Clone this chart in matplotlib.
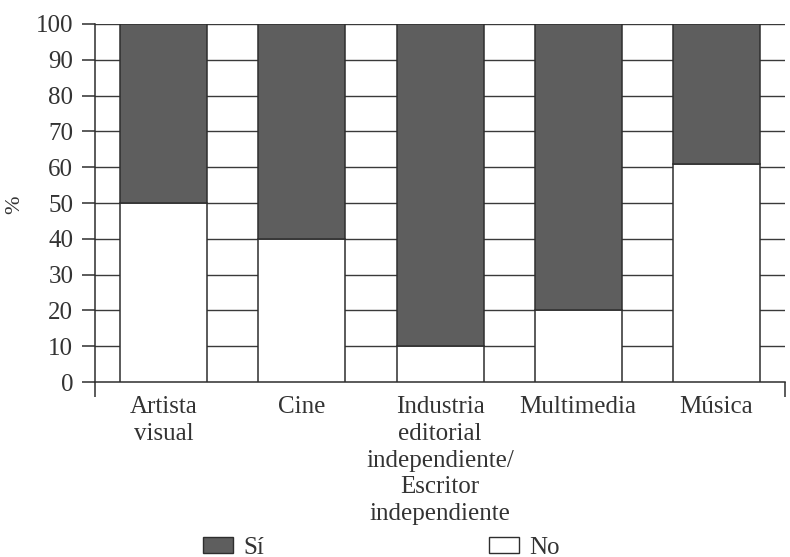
import matplotlib
matplotlib.use("Agg")
import matplotlib.pyplot as plt
from matplotlib.patches import Patch
import numpy as np

categories = ["Artista\nvisual", "Cine",
              "Industria\neditorial\nindependiente/\nEscritor\nindependiente",
              "Multimedia", "Música"]
no_vals = [50, 40, 10, 20, 61]
si_vals = [100 - v for v in no_vals]
yticks = list(range(0, 101, 10))

plt.rcParams["font.family"] = ["Liberation Serif", "DejaVu Serif"]
plt.rcParams["font.size"] = 18

fig = plt.figure(figsize=(7.9, 5.57), dpi=100)
ax = fig.add_axes([0.120, 0.314, 0.874, 0.643])

x = np.arange(len(categories))
width = 0.63
edge = "#2e2e2e"
dark = "#5e5e5e"
text_col = "#333333"

ax.bar(x, no_vals, width, color="white", edgecolor=edge, linewidth=1.1, zorder=3)
ax.bar(x, si_vals, width, bottom=no_vals, color=dark, edgecolor=edge,
       linewidth=1.1, zorder=3)

ax.set_xlim(-0.5, len(categories) - 0.5)
ax.set_ylim(0, 100)
ax.set_yticks(yticks)
for v in yticks[1:]:
    ax.axhline(v, color="#3a3a3a", linewidth=1.0, zorder=1)

ax.set_xticks(x)
ax.set_xticklabels(categories, linespacing=1.28, color=text_col)
ax.tick_params(axis="x", length=0, pad=10)
ax.set_xticks([-0.5, len(categories) - 0.5], minor=True)
ax.tick_params(axis="x", which="minor", length=11, width=1.1, color=edge)
ax.tick_params(axis="y", length=9.5, width=1.1, color=edge, pad=6,
               labelcolor=text_col)

for s in ["top", "right"]:
    ax.spines[s].set_visible(False)
for s in ["left", "bottom"]:
    ax.spines[s].set_color(edge)
    ax.spines[s].set_linewidth(1.1)

ax.set_ylabel("%", color=text_col, fontsize=16)
ax.yaxis.set_label_coords(-0.102, 0.494)

handles = [Patch(facecolor=dark, edgecolor=edge, label="Sí"),
           Patch(facecolor="white", edgecolor=edge, label="No")]
fig.legend(handles=handles, ncol=2, loc="center",
           bbox_to_anchor=(0.483, 0.017), frameon=False, columnspacing=9,
           handlelength=1.2, handleheight=0.6, handletextpad=0.4,
           borderpad=0, labelcolor=text_col)

fig.savefig("out.png", dpi=100, facecolor="white")
